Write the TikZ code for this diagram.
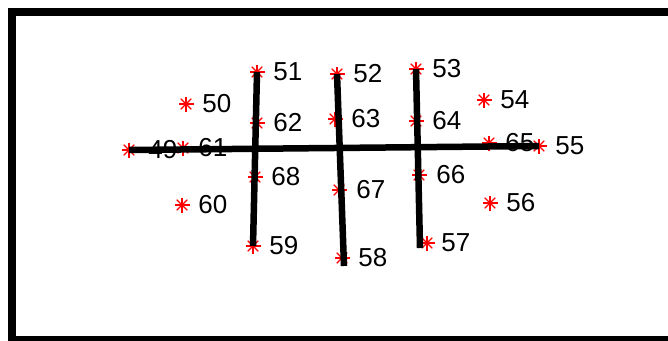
\documentclass[tikz,border=0pt]{standalone}
\usepackage{fontspec}
\setmainfont{Liberation Sans}
\usepackage{xcolor}
\usetikzlibrary{positioning}

\begin{document}
\begin{tikzpicture}[x=1pt, y=-1pt,
  every node/.style={font=\fontsize{26}{30}\selectfont},
  ast/.style={inner sep=0pt, minimum size=16pt, path picture={
      \foreach \a in {0,45,...,315}
        \draw[red, line width=1.2pt] (path picture bounding box.center) -- ++(\a:7.5);}},
  num/.style={inner sep=0pt, anchor=west},
  bar/.style={line width=6.5pt}]

  \useasboundingbox (0,0) rectangle (668,340);
  \draw[line width=8.5pt, line join=miter] (700,12) -- (12,12) -- (12,340) -- (700,340);

  % outer points
  \node[ast] (p49) at (129,150) {};
  \node[ast] (p50) at (186,104) {};
  \node[ast] (p51) at (257,72)  {};
  \node[ast] (p52) at (337,74)  {};
  \node[ast] (p53) at (416,69)  {};
  \node[ast] (p54) at (484,100) {};
  \node[ast] (p55) at (539,146) {};
  \node[ast] (p56) at (490,203) {};
  \node[ast] (p57) at (427,243) {};
  \node[ast] (p58) at (342,258) {};
  \node[ast] (p59) at (253,246) {};
  \node[ast] (p60) at (182,205) {};

  % inner points
  \node[ast] (p61) at (183,148) {};
  \node[ast] (p62) at (257,123) {};
  \node[ast] (p63) at (335,119) {};
  \node[ast] (p64) at (416,121) {};
  \node[ast] (p65) at (489,143) {};
  \node[ast] (p66) at (419,175) {};
  \node[ast] (p67) at (339,190) {};
  \node[ast] (p68) at (255,177) {};

  % numbers
  \node[num, right=11pt of p49] (t49) {49};
  \node[num, right=8pt of p50] (t50) {50};
  \node[num, right=8pt of p51] (t51) {51};
  \node[num, right=8pt of p52] (t52) {52};
  \node[num, right=8pt of p53] (t53) {53};
  \node[num, right=8pt of p54] (t54) {54};
  \node[num, right=8pt of p55] (t55) {55};
  \node[num, right=8pt of p56] (t56) {56};
  \node[num, right=6pt of p57] (t57) {57};
  \node[num, right=8pt of p58] (t58) {58};
  \node[num, right=8pt of p59] (t59) {59};
  \node[num, right=8pt of p60] (t60) {60};
  \node[num, right=7pt of p61] (t61) {61};
  \node[num, right=8pt of p62] (t62) {62};
  \node[num, right=8pt of p63] (t63) {63};
  \node[num, right=8pt of p64] (t64) {64};
  \node[num, right=8pt of p65] (t65) {65};
  \node[num, right=9pt of p66] (t66) {66};
  \node[num, right=9pt of p67] (t67) {67};
  \node[num, right=8pt of p68] (t68) {68};

  % bars
  \coordinate (e2) at (344,266);
  \coordinate (e3) at (420,248);
  \draw[bar] (p49.center) -- (p55.center);
  \draw[bar] (p51.center) -- (p59.center);
  \draw[bar] (p52.center) -- (e2);
  \draw[bar] (p53.center) -- (e3);
\end{tikzpicture}
\end{document}
